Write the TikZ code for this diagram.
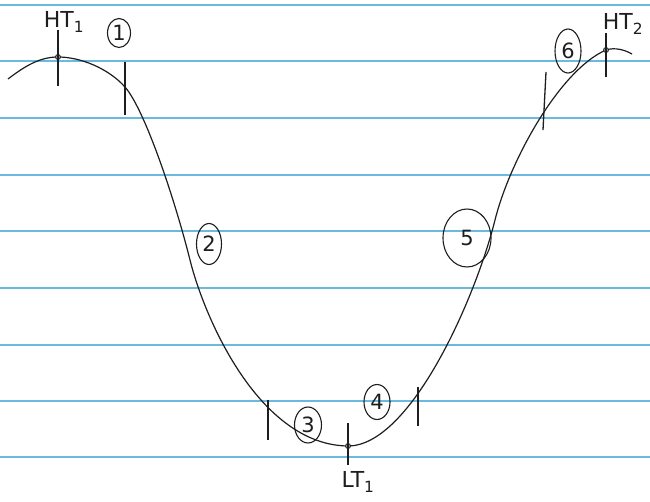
\documentclass[tikz,border=0pt]{standalone}
\usepackage{fontspec}
\setmainfont{DejaVu Sans}
\usetikzlibrary{shapes.geometric}
\definecolor{ruled}{RGB}{105,185,225}
\definecolor{ink}{RGB}{30,30,30}
\tikzset{
  ruleline/.style={ruled, line width=1.6pt},
  curveline/.style={ink, line width=1.2pt},
  tickline/.style={ink, line width=1.3pt},
  numlabel/.style={draw=ink, line width=1.1pt, ellipse, inner sep=0pt, font=\fontsize{21}{21}\selectfont, text=ink},
  dotpt/.style={circle, draw=ink, fill=ink!40, line width=0.8pt, inner sep=0pt, minimum size=5pt},
  lbl/.style={text=ink, font=\fontsize{22}{22}\selectfont, inner sep=0pt}
}
\begin{document}
\begin{tikzpicture}[x=1pt,y=-1pt]
\useasboundingbox (0,0) rectangle (650,502);
\fill[white] (0,0) rectangle (650,502);
% ruled paper lines
\foreach \yy in {5,61,118,175,231,288,345,401,457}
  \draw[ruleline] (0,\yy) -- (650,\yy);
% the curve
\draw[curveline] (8,79) .. controls (25,66) and (40,57) .. (58,57)
  .. controls (80,57) and (108,68) .. (125,87)
  .. controls (145,110) and (175,200) .. (190,260)
  .. controls (205,320) and (260,445) .. (348,446)
  .. controls (410,446) and (475,300) .. (495,220)
  .. controls (510,160) and (560,70) .. (606,50)
  .. controls (615,47) and (625,50) .. (632,54);
% points
\node[dotpt] (ht1) at (58,57) {};
\node[dotpt] (lt1) at (348,446) {};
\node[dotpt] (ht2) at (606,50) {};
% ticks
\draw[tickline] (58,30) -- (58,86);
\draw[tickline] (125,62) -- (125,115);
\draw[tickline] (268,400) -- (268,440);
\draw[tickline] (348,423) -- (348,465);
\draw[tickline] (418,387) -- (418,426);
\draw[tickline] (546,72) -- (543,130);
\draw[tickline] (606,33) -- (606,77);
% labels
\node[lbl] (lhta) at (64,22) {HT\textsubscript{1}};
\node[lbl] (llt) at (358,482) {LT\textsubscript{1}};
\node[lbl] (lhtb) at (623,24) {HT\textsubscript{2}};
% circled numbers
\node[numlabel, minimum width=23pt, minimum height=29pt] (n1) at (119,33) {1};
\node[numlabel, minimum width=25pt, minimum height=41pt] (n2) at (209,244) {2};
\node[numlabel, minimum width=27pt, minimum height=36pt] (n3) at (308,425) {3};
\node[numlabel, minimum width=26pt, minimum height=35pt] (n4) at (377,402) {4};
\node[numlabel, minimum width=48pt, minimum height=58pt] (n5) at (467,238) {5};
\node[numlabel, minimum width=26pt, minimum height=44pt] (n6) at (568,51) {6};
\end{tikzpicture}
\end{document}
